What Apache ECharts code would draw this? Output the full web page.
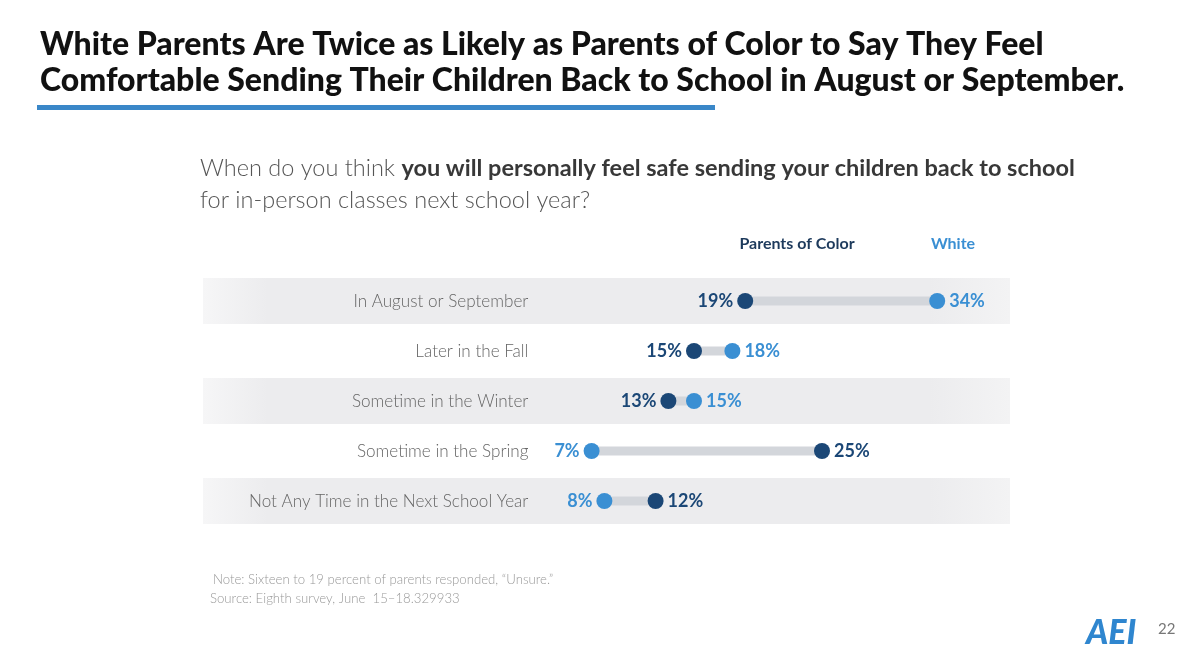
<!DOCTYPE html>
<html><head><meta charset="utf-8">
<script src="https://cdn.jsdelivr.net/npm/echarts@6/dist/echarts.min.js"></script>
<style>html,body{margin:0;padding:0;background:#fff}#c{width:1200px;height:662px}</style>
</head><body><div id="c"></div>
<script>
const categories = ['In August or September','Later in the Fall','Sometime in the Winter','Sometime in the Spring','Not Any Time in the Next School Year'];
const parentsOfColor = [19, 15, 13, 25, 12];
const whiteParents = [34, 18, 15, 7, 8];
const seriesNames = ['Parents of Color', 'White'];

const DARK = '#1b4776', LIGHT = '#3a8fd3';
const FONT = 'Lato, "Open Sans", sans-serif';

function dotData(vals, other) {
  return vals.map((v, i) => ({
    value: [v, i],
    label: { position: v < other[i] ? 'left' : 'right' }
  }));
}

const chart = echarts.init(document.getElementById('c'));
chart.setOption({
  animation: false,
  grid: { left: 540.4, right: 186, top: 276, height: 250 },
  xAxis: { type: 'value', min: 3, max: 40, show: false },
  yAxis: {
    type: 'category', data: categories, inverse: true,
    axisLine: { show: false }, axisTick: { show: false },
    axisLabel: { color: '#666', fontSize: 17.1, fontFamily: FONT, fontWeight: 300, margin: 12 }
  },
  graphic: [
    { type: 'text', left: 40, top: 27, style: { text: 'White Parents Are Twice as Likely as Parents of Color to Say They Feel\nComfortable Sending Their Children Back to School in August or September.', font: '900 32px ' + FONT, fill: '#111', lineHeight: 36 } },
    { type: 'rect', shape: { x: 37, y: 105, width: 678, height: 5 }, style: { fill: '#3a87c8' } },
    { type: 'text', left: 200, top: 156, style: {
        rich: {
          n: { font: '300 23.5px ' + FONT, fill: '#555', lineHeight: 32 },
          b: { font: 'bold 23.5px ' + FONT, fill: '#383838', lineHeight: 32 }
        },
        text: '{n|When do you think }{b|you will personally feel safe sending your children back to school}\n{n|for in-person classes next school year?}'
      } },
    { type: 'text', x: 797, y: 244, style: { text: seriesNames[0], font: 'bold 16px ' + FONT, fill: '#1d3a5c', align: 'center', verticalAlign: 'middle' } },
    { type: 'text', x: 953, y: 244, style: { text: seriesNames[1], font: 'bold 16px ' + FONT, fill: LIGHT, align: 'center', verticalAlign: 'middle' } },
    { type: 'text', left: 213, top: 573, style: { text: 'Note: Sixteen to 19 percent of parents responded, \u201cUnsure.\u201d', font: '300 13.2px ' + FONT, fill: '#999' } },
    { type: 'text', left: 210, top: 592, style: { text: 'Source: Eighth survey, June  15\u201318.329933', font: '300 13.2px ' + FONT, fill: '#999' } },
    { type: 'text', left: 1086, top: 616, style: { text: 'AEI', font: 'italic 900 34px ' + FONT, fill: '#2f86cf' } },
    { type: 'text', left: 1158, top: 622, style: { text: '22', font: '15px ' + FONT, fill: '#777' } }
  ],
  series: [
    {
      type: 'custom', silent: true, z: 0,
      data: categories.map((c, i) => [0, i]),
      renderItem: function (params, api) {
        const i = api.value(1);
        if (i % 2 !== 0) return null;
        const y = api.coord([3, i])[1];
        const h = 46;
        return {
          type: 'rect',
          shape: { x: 203, y: y - h / 2, width: 807, height: h },
          style: {
            fill: new echarts.graphic.LinearGradient(0, 0, 1, 0, [
              { offset: 0, color: '#f6f6f7' }, { offset: 0.08, color: '#ececee' },
              { offset: 0.9, color: '#ececee' }, { offset: 1, color: '#f3f3f4' }
            ])
          }
        };
      }
    },
    {
      type: 'custom', silent: true, z: 1,
      data: parentsOfColor.map((v, i) => [v, whiteParents[i], i]),
      encode: { x: [0, 1], y: 2 },
      renderItem: function (params, api) {
        const a = api.coord([api.value(0), api.value(2)]);
        const b = api.coord([api.value(1), api.value(2)]);
        return { type: 'line', shape: { x1: a[0], y1: a[1], x2: b[0], y2: b[1] }, style: { stroke: '#d3d6db', lineWidth: 9 } };
      }
    },
    {
      name: seriesNames[0], type: 'scatter', z: 3, symbolSize: 16,
      itemStyle: { color: DARK, opacity: 1 },
      label: { show: true, formatter: p => p.value[0] + '%', color: DARK, fontSize: 18, fontWeight: 'bold', fontFamily: FONT, distance: 4 },
      data: dotData(parentsOfColor, whiteParents)
    },
    {
      name: seriesNames[1], type: 'scatter', z: 3, symbolSize: 16,
      itemStyle: { color: LIGHT, opacity: 1 },
      label: { show: true, formatter: p => p.value[0] + '%', color: LIGHT, fontSize: 18, fontWeight: 'bold', fontFamily: FONT, distance: 4 },
      data: dotData(whiteParents, parentsOfColor)
    }
  ]
});
</script></body></html>
